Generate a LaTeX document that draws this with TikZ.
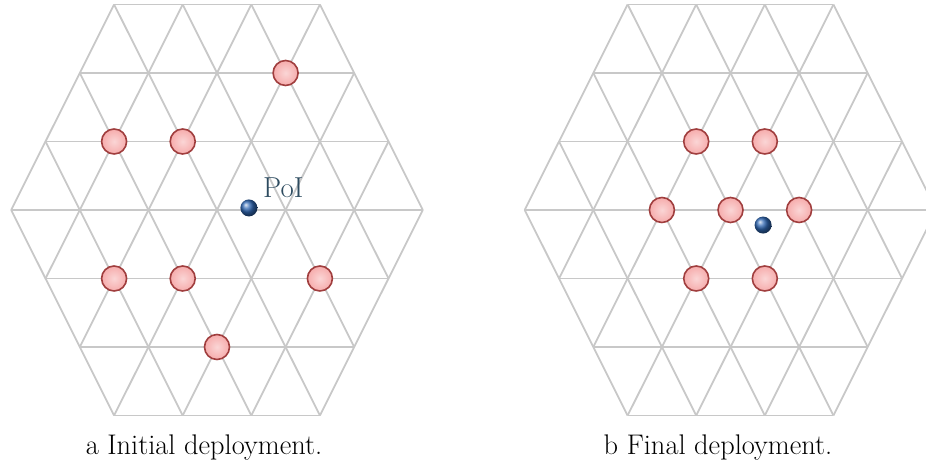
\documentclass[tikz,border=0pt]{standalone}
\usepackage{tikz}
\usetikzlibrary{positioning,shadings}
\definecolor{gridgray}{RGB}{200,200,200}
\definecolor{robotfill}{RGB}{246,172,172}
\definecolor{robotedge}{RGB}{160,62,62}
\definecolor{poiblue}{RGB}{48,104,180}
\definecolor{poitextcol}{RGB}{45,75,95}
\newcommand{\hexlattice}{%
  \foreach \r in {-3,...,3} {
    \pgfmathsetmacro\w{6-abs(\r)}
    \draw[gridline] (-\w,\r) -- (\w,\r);
  }
  \foreach \k in {-3,...,3} {
    \pgfmathsetmacro\ra{max(-3,-3-(\k))}
    \pgfmathsetmacro\rb{min(3,3-(\k))}
    \draw[gridline] ({\ra+2*(\k)},\ra) -- ({\rb+2*(\k)},\rb);
    \draw[gridline] ({-(\ra)-2*(\k)},\ra) -- ({-(\rb)-2*(\k)},\rb);
  }%
}

\begin{document}
\begin{tikzpicture}[
    x=1bp, y=1bp,
    gridline/.style={draw=gridgray, line width=1.8bp},
    robot/.style={circle, draw=robotedge, line width=1.6bp, shading=radial, inner color=robotfill!50!white, outer color=robotfill, minimum size=25bp, inner sep=0pt},
    target/.style={circle, shading=ball, ball color=poiblue, minimum size=17bp, inner sep=0pt},
    caption/.style={font=\fontsize{28.5}{33}\selectfont, inner sep=0pt, anchor=base}
  ]
    \useasboundingbox (0,0) rectangle (926,466);
    \clip (0,0) rectangle (926,466);

    \begin{scope}[shift={(217bp,256bp)}, x=34.3bp, y=68.5bp]
      \hexlattice
      \node[robot] (init1) at (2,2) {};
      \node[robot] (init2) at (-3,1) {};
      \node[robot] (init3) at (-1,1) {};
      \node[robot] (init4) at (-3,-1) {};
      \node[robot] (init5) at (-1,-1) {};
      \node[robot] (init6) at (3,-1) {};
      \node[robot] (init7) at (0,-2) {};
      \node[target] (poiA) at (0.93,0.03) {};
      \node[font=\fontsize{29}{34}\selectfont, text=poitextcol, inner sep=0pt, anchor=base west, xshift=14bp, yshift=10bp] (poilabel) at (poiA) {PoI};
    \end{scope}

    \begin{scope}[shift={(730.5bp,256bp)}, x=34.3bp, y=68.5bp]
      \hexlattice
      \node[robot] (fin1) at (-1,1) {};
      \node[robot] (fin2) at (1,1) {};
      \node[robot] (fin3) at (-2,0) {};
      \node[robot] (fin4) at (0,0) {};
      \node[robot] (fin5) at (2,0) {};
      \node[robot] (fin6) at (-1,-1) {};
      \node[robot] (fin7) at (1,-1) {};
      \node[target] (poiB) at (0.95,-0.22) {};
    \end{scope}

    \node[caption] (capA) at (204,11) {a Initial deployment.};
    \node[caption] (capB) at (718,11) {b Final deployment.};
  \end{tikzpicture}
\end{document}
